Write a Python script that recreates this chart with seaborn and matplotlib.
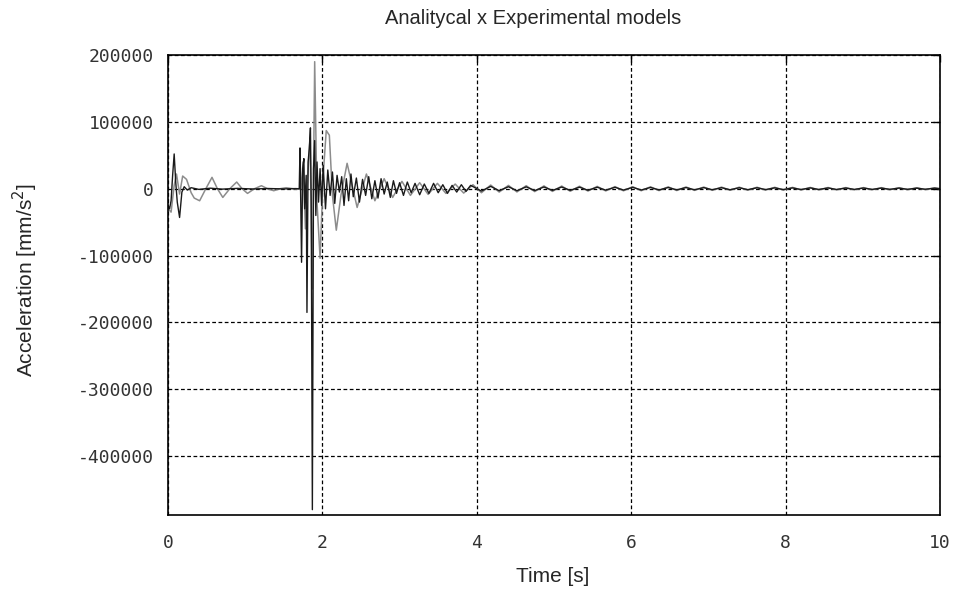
import matplotlib
matplotlib.use("Agg")
import matplotlib.pyplot as plt
import seaborn as sns
import pandas as pd

# Analytical model (gray)
t_analytical = [0.00, 0.04, 0.08, 0.11, 0.15, 0.19, 0.24, 0.30, 0.34, 0.41, 0.49, 0.57, 0.64, 0.71,
                0.80, 0.89, 0.96, 1.03, 1.12, 1.21, 1.29, 1.37, 1.45, 1.53, 1.62, 1.72, 1.75, 1.78,
                1.81, 1.84, 1.87, 1.90, 1.93, 1.97, 2.01, 2.05, 2.09, 2.13, 2.18, 2.24, 2.32,
                2.45, 2.57, 2.68, 2.80, 2.91, 3.03, 3.14, 3.26, 3.37, 3.49, 3.60, 3.72, 3.83, 3.95,
                4.06, 4.18, 4.29, 4.41, 4.52, 4.64, 4.75, 4.87, 4.98, 5.10, 5.21, 5.33, 5.44, 5.56,
                5.67, 5.79, 5.90, 6.02, 6.13, 6.25, 6.36, 6.48, 6.59, 6.71, 6.82, 6.94, 7.05, 7.17,
                7.28, 7.40, 7.51, 7.63, 7.74, 7.86, 7.97, 8.09, 8.20, 8.32, 8.43, 8.55, 8.66, 8.78,
                8.89, 9.01, 9.12, 9.24, 9.35, 9.47, 9.58, 9.70, 9.81, 9.93, 10.00]
a_analytical = [-30000, -35000, 5000, 22000, -8000, 19000, 14000, -6000, -14000, -18000, 0, 17000, 0, -13000,
                0, 10000, 0, -7000, 0, 4500, 0, -3000, 0, 1500, 0, -1000, 40000, -60000,
                20000, 75000, -150000, 190000, -20000, -104000, 20000, 87000, 80000, -10000, -62000, -10000, 38000,
                -28000, 22000, -18000, 15000, -13000, 11000, -10000, 9000, -8500, 8000, -7000, 7000, -6500, 6000,
                -6000, 5500, -5000, 5000, -4800, 4500, -4300, 4200, -4000, 4000, -3800, 3700, -3500, 3500,
                -3300, 3200, -3100, 3000, -3000, 2900, -2800, 2800, -2700, 2600, -2500, 2500, -2400, 2400,
                -2300, 2300, -2200, 2200, -2100, 2100, -2000, 2000, -1900, 1900, -1800, 1800, -1800, 1700,
                -1700, 1700, -1600, 1600, -1600, 1500, -1500, 1500, -1400, 1400, 0]

# Experimental model (black)
t_experimental = [0.00, 0.02, 0.04, 0.06, 0.08, 0.10, 0.12, 0.15, 0.18, 0.21, 0.25, 0.30, 0.40, 0.55,
                  0.70, 0.90, 1.10, 1.30, 1.50, 1.65, 1.70, 1.71, 1.72, 1.73, 1.745, 1.76, 1.77, 1.79,
                  1.80, 1.815, 1.83, 1.845, 1.855, 1.87, 1.885, 1.90, 1.915, 1.93, 1.95, 1.97, 1.99,
                  2.01, 2.04, 2.07, 2.10, 2.13, 2.16, 2.19, 2.22, 2.25, 2.28, 2.31, 2.34, 2.37, 2.40,
                  2.44, 2.48, 2.52, 2.56, 2.60, 2.64, 2.68, 2.72, 2.76, 2.80, 2.84, 2.88, 2.92, 2.96,
                  3.00, 3.05, 3.10, 3.15, 3.20, 3.26, 3.32, 3.38, 3.44, 3.50, 3.56, 3.62, 3.68, 3.74,
                  3.80, 3.86, 3.92, 4.06, 4.18, 4.29, 4.41, 4.52, 4.64, 4.75, 4.87, 4.98, 5.10, 5.21,
                  5.33, 5.44, 5.56, 5.67, 5.79, 5.90, 6.02, 6.13, 6.25, 6.36, 6.48, 6.59, 6.71, 6.82,
                  6.94, 7.05, 7.17, 7.28, 7.40, 7.51, 7.63, 7.74, 7.86, 7.97, 8.09, 8.20, 8.32, 8.43,
                  8.55, 8.66, 8.78, 8.89, 9.01, 9.12, 9.24, 9.35, 9.47, 9.58, 9.70, 9.81, 9.93, 10.00]
a_experimental = [-25000, -30000, -18000, 20000, 52000, 10000, -20000, -43000, -5000, 3000, -2000, 1500, -1000, 800,
                  -600, 500, -400, 300, -300, 200, 0, 61000, -20000, -110000, 30000, 45000, -30000, 20000,
                  -185000, 40000, 60000, 91000, -20000, -480000, 30000, 72000, -40000, 40000, -20000, 30000, -25000,
                  35000, -30000, 28000, -10000, 25000, -22000, 20000, -5000, 18000, -25000, 15000, -18000, 22000, -12000,
                  16000, -20000, 14000, -10000, 18000, -15000, 12000, -14000, 15000, -8000, 10000, -13000, 12000, -7000,
                  9000, -10000, 10000, -6000, 8000, -9000, 7000, -7000, 8000, -6000, 6000, -7000, 5000, -5000,
                  6000, -4000, 5000, -3500, 3500, -3000, 3000, -3000, 2800, -2800, 2600, -2500, 2500, -2400,
                  2300, -2300, 2200, -2100, 2100, -2000, 2000, -1900, 1900, -1800, 1800, -1700, 1700, -1600,
                  1600, -1500, 1500, -1500, 1400, -1400, 1400, -1300, 1300, -1300, 1200, -1200, 1200, -1100,
                  1100, -1100, 1000, -1000, 1000, -1000, 900, -900, 900, -900, 800, -800, 800, 0]

x_ticks = [0, 2, 4, 6, 8, 10]
y_ticks = [200000, 100000, 0, -100000, -200000, -300000, -400000]

df = pd.concat([
    pd.DataFrame({"t": t_experimental, "a": a_experimental, "model": "Experimental"}),
    pd.DataFrame({"t": t_analytical, "a": a_analytical, "model": "Analytical"}),
], ignore_index=True)

sns.set_style("white")
plt.rcParams['font.family'] = ['Liberation Sans', 'DejaVu Sans']

fig = plt.figure(figsize=(9.58, 5.90), dpi=100)
ax = fig.add_axes([168/958, 1-515/590, (940-168)/958, (515-55)/590])

sns.lineplot(data=df[df.model == "Analytical"], x="t", y="a", color="#8c8c8c", linewidth=1.1,
             estimator=None, ax=ax, legend=False)
sns.lineplot(data=df[df.model == "Experimental"], x="t", y="a", color="#1a1a1a", linewidth=1.0,
             estimator=None, ax=ax, legend=False)

ax.set_xlim(0, 10)
ax.set_ylim(-488000, 200000)
ax.set_xticks(x_ticks)
ax.set_yticks(y_ticks)
ax.set_xticklabels([str(v) for v in x_ticks], family='DejaVu Sans Mono', fontsize=13, color='#333333')
ax.set_yticklabels([str(v) for v in y_ticks], family='DejaVu Sans Mono', fontsize=13, color='#333333')
ax.grid(True, color='black', linestyle=(0, (3, 2)), linewidth=0.9)
ax.set_axisbelow(True)
ax.tick_params(axis='both', direction='in', length=5, width=1, top=True, right=True, pad=10, colors='black',
               labelcolor='#333333')
ax.tick_params(axis='x', pad=14)
for s in ax.spines.values():
    s.set_color('black')
    s.set_linewidth(1.2)
    s.set_visible(True)
ax.set_xlabel("")
ax.set_ylabel("")

fig.text(533/958, 1-18/590, "Analitycal x Experimental models", ha='center', va='center', fontsize=14.5)
fig.text(553/958, 1-577/590, "Time [s]", ha='center', va='center', fontsize=15)
fig.text(25/958, 1-280/590, "Acceleration [mm/s$^2$]", ha='center', va='center', rotation=90, fontsize=15)

fig.savefig("out.png", dpi=100)
